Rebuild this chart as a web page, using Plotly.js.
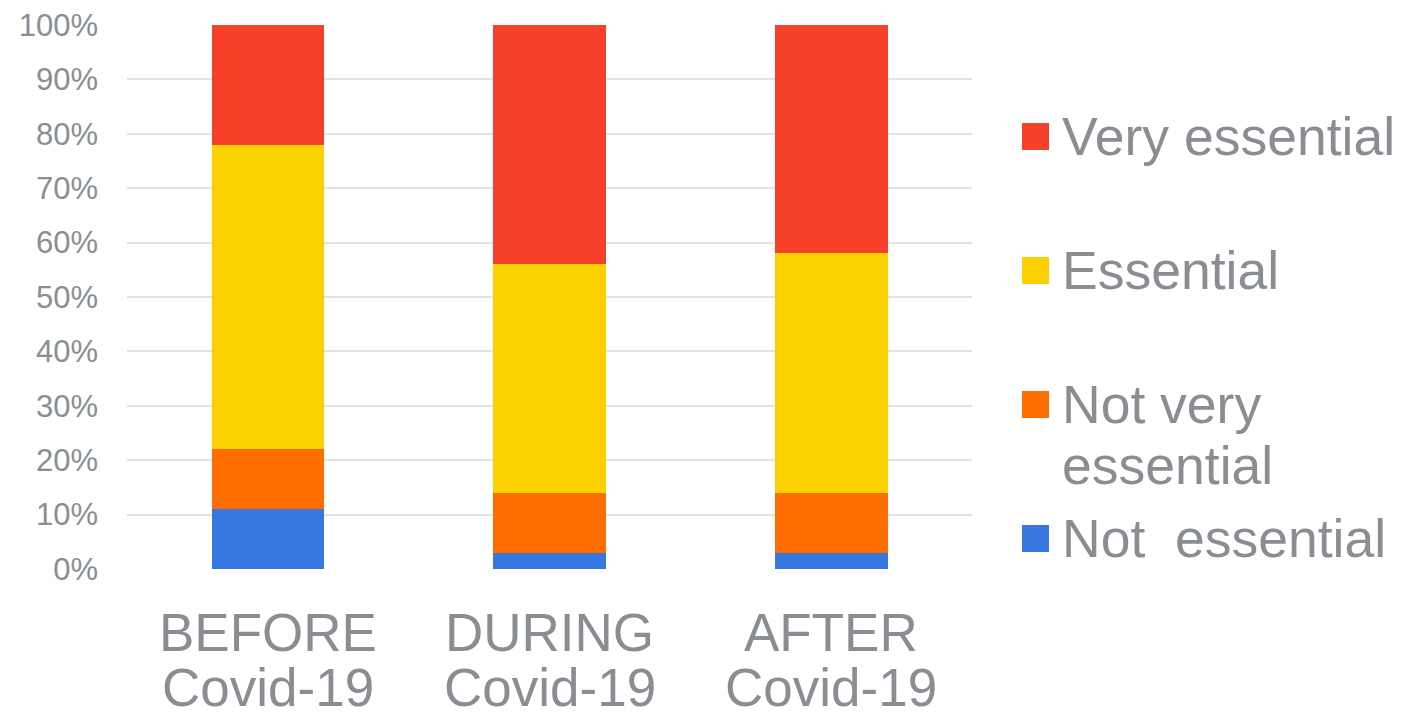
<!DOCTYPE html>
<html>
<head>
<meta charset="utf-8">
<script src="https://cdn.plot.ly/plotly-3.0.1.min.js"></script>
<style>html,body{margin:0;padding:0;background:#fff;}#chart{width:1414px;height:714px;}</style>
</head>
<body>
<div id="chart"></div>
<script>
// ---- data ----
const categories = ["BEFORE<br>Covid-19", "DURING<br>Covid-19", "AFTER<br>Covid-19"];
const seriesNames = ["Not  essential", "Not very<br>essential", "Essential", "Very essential"];
const notEssential = [11, 3, 3];
const notVeryEssential = [11, 11, 11];
const essential = [56, 42, 44];
const veryEssential = [22, 44, 42];
const yTickVals = [0, 10, 20, 30, 40, 50, 60, 70, 80, 90, 100];
const yTickText = ["0%", "10%", "20%", "30%", "40%", "50%", "60%", "70%", "80%", "90%", "100%"];

// ---- style ----
const colors = ["#3778E0", "#FF6D00", "#FBD200", "#F6402A"];
const gray = "#8A8E93";
const font = "Arial, 'Liberation Sans', sans-serif";
const seriesValues = [notEssential, notVeryEssential, essential, veryEssential];

const traces = seriesValues.map((vals, i) => ({
  type: "bar",
  x: categories,
  y: vals,
  name: seriesNames[i],
  marker: { color: colors[i], line: { width: 0 } },
  showlegend: false,
  hoverinfo: "skip"
}));

// plot area in pixels: left 127, right 972, top 25, bottom 569
const plotTop = 25, plotBottom = 569, plotH = plotBottom - plotTop;
const py = p => (plotBottom - p) / plotH;  // pixel -> paper y

const annotations = [];
const shapes = [];

// category labels (two lines)
categories.forEach(c => {
  const lines = c.split("<br>");
  const centers = [632, 687];
  lines.forEach((ln, k) => {
    annotations.push({
      xref: "x", yref: "paper", x: c, y: py(centers[k]),
      text: ln, showarrow: false, xanchor: "center", yanchor: "middle",
      font: { family: font, size: 53, color: gray }
    });
  });
});

// legend (top to bottom: Very essential ... Not essential)
const legendSquareTop = [123, 257, 391, 525];
const order = [3, 2, 1, 0];
const paperX = px => (px - 127) / (972 - 127);
order.forEach((si, k) => {
  const top = legendSquareTop[k];
  shapes.push({
    type: "rect", xref: "paper", yref: "paper",
    x0: paperX(1022), x1: paperX(1049), y0: py(top + 27), y1: py(top),
    fillcolor: colors[si], line: { width: 0 }
  });
  const lines = seriesNames[si].split("<br>");
  lines.forEach((ln, j) => {
    annotations.push({
      xref: "paper", yref: "paper", x: paperX(1060), y: py(top + 13 + j * 61),
      text: ln.replace(/  /g, "&nbsp; "), showarrow: false, xanchor: "left", yanchor: "middle",
      font: { family: font, size: 53.5, color: gray }
    });
  });
});

const layout = {
  width: 1414, height: 714,
  margin: { l: 127, r: 442, t: 25, b: 145, pad: 0 },
  paper_bgcolor: "#ffffff", plot_bgcolor: "#ffffff",
  barmode: "stack",
  bargap: 0.6,
  showlegend: false,
  font: { family: font, color: gray },
  xaxis: {
    type: "category",
    showticklabels: false,
    showgrid: false, zeroline: false, showline: false, ticks: ""
  },
  yaxis: {
    range: [0, 100],
    tickvals: yTickVals, ticktext: yTickText,
    tickfont: { family: font, size: 31, color: gray },
    showgrid: true, gridcolor: "#E3E3E3", gridwidth: 2,
    zeroline: false, showline: false, ticks: "",
    ticklabelstandoff: 28
  },
  annotations: annotations,
  shapes: shapes
};

Plotly.newPlot("chart", traces, layout, { staticPlot: true, displayModeBar: false });
</script>
</body>
</html>
